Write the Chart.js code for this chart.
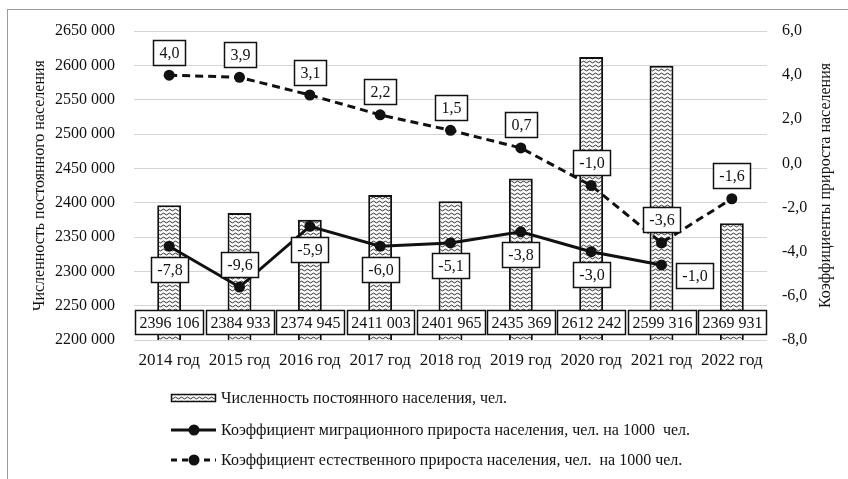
<!DOCTYPE html>
<html>
<head>
<meta charset="utf-8">
<script src="https://cdn.jsdelivr.net/npm/chart.js@4.4.1/dist/chart.umd.min.js"></script>
<style>
html, body { margin: 0; padding: 0; background: #fff; }
#wrap { width: 848px; height: 479px; }
</style>
</head>
<body>
<div id="wrap"><canvas id="chart" width="848" height="479"></canvas></div>
<script>
// data
var years = ['2014 год', '2015 год', '2016 год', '2017 год', '2018 год', '2019 год', '2020 год', '2021 год', '2022 год'];
var population = [2396106, 2384933, 2374945, 2411003, 2401965, 2435369, 2612242, 2599316, 2369931];
// migration line: where the points sit on the right axis, and the text printed beside them
var migrationPoints = [-3.75, -5.6, -2.85, -3.75, -3.6, -3.1, -4.0, -4.6, null];
var migrationLabels = ['-7,8', '-9,6', '-5,9', '-6,0', '-5,1', '-3,8', '-3,0', '-1,0', ''];
var naturalGrowth = [4.0, 3.9, 3.1, 2.2, 1.5, 0.7, -1.0, -3.6, -1.6];
var leftAxis = { min: 2200000, max: 2650000, step: 50000 };
var rightAxis = { min: -8, max: 6, step: 2 };
var legendTexts = [
	'Численность постоянного населения, чел.',
	'Коэффициент миграционного прироста населения, чел. на 1000  чел.',
	'Коэффициент естественного прироста населения, чел.  на 1000 чел.'
];

var FONT = '"Liberation Serif", "Times New Roman", serif';
var INK = '#111';

var fmtThousands = function(v) {
	var s = String(Math.round(v));
	return s.slice(0, s.length - 3) + ' ' + s.slice(-3);
};
var fmtComma = function(v) {
	return v.toFixed(1).replace('.', ',');
};

var makePattern = function(ctx) {
	var c = document.createElement('canvas');
	c.width = 6; c.height = 4;
	var g = c.getContext('2d');
	g.fillStyle = '#fafafa';
	g.fillRect(0, 0, 6, 4);
	g.strokeStyle = '#333';
	g.lineWidth = 1;
	g.beginPath();
	g.moveTo(0, 2);
	g.quadraticCurveTo(1.5, 0.2, 3, 2);
	g.quadraticCurveTo(4.5, 3.8, 6, 2);
	g.stroke();
	return ctx.createPattern(c, 'repeat');
};

var drawBox = function(ctx, text, cx, cy, padX, h) {
	var w = Math.round(ctx.measureText(text).width + padX * 2);
	var x = Math.round(cx - w / 2) + 0.5, y = Math.round(cy - h / 2) + 0.5;
	ctx.fillStyle = '#fff';
	ctx.fillRect(x, y, w, h);
	ctx.strokeStyle = INK;
	ctx.lineWidth = 1.5;
	ctx.strokeRect(x, y, w, h);
	ctx.fillStyle = INK;
	ctx.textAlign = 'center';
	ctx.textBaseline = 'middle';
	ctx.fillText(text, x + w / 2, y + h / 2 + 1);
};

var migrationPlace = ['below', 'above', 'below', 'below', 'below', 'below', 'below', 'right', 'below'];

var boxLabels = {
	id: 'boxLabels',
	afterDatasetsDraw: function(chart) {
		var ctx = chart.ctx, area = chart.chartArea;
		ctx.save();
		ctx.font = '16px ' + FONT;
		chart.getDatasetMeta(0).data.forEach(function(bar, i) {
			drawBox(ctx, fmtThousands(population[i]), bar.x, area.bottom - 18, 4, 24);
		});
		chart.getDatasetMeta(1).data.forEach(function(pt, i) {
			if (migrationPoints[i] === null) return;
			var p = migrationPlace[i];
			if (p === 'above') drawBox(ctx, migrationLabels[i], pt.x, pt.y - 23, 6, 25);
			else if (p === 'right') drawBox(ctx, migrationLabels[i], pt.x + 33, pt.y + 11, 6, 25);
			else drawBox(ctx, migrationLabels[i], pt.x, pt.y + 23, 6, 25);
		});
		chart.getDatasetMeta(2).data.forEach(function(pt, i) {
			drawBox(ctx, fmtComma(naturalGrowth[i]), pt.x, pt.y - 23, 6, 25);
		});
		ctx.restore();
	},
	afterDraw: function(chart) {
		var ctx = chart.ctx, area = chart.chartArea;
		ctx.save();
		// right axis title, reads bottom to top
		ctx.font = '16px ' + FONT;
		ctx.fillStyle = INK;
		ctx.textAlign = 'center';
		ctx.textBaseline = 'middle';
		ctx.translate(826, (area.top + area.bottom) / 2);
		ctx.rotate(-Math.PI / 2);
		ctx.fillText('Коэффициенты прироста населения', 0, 0);
		ctx.restore();

		// legend
		ctx.save();
		var lx = 171, rows = [398, 430, 460];
		ctx.font = '16px ' + FONT;
		ctx.textAlign = 'left';
		ctx.textBaseline = 'middle';
		ctx.fillStyle = makePattern(ctx);
		ctx.fillRect(lx + 0.5, rows[0] - 3.5, 44, 7);
		ctx.strokeStyle = INK;
		ctx.lineWidth = 1.5;
		ctx.strokeRect(lx + 0.5, rows[0] - 3.5, 44, 7);
		ctx.lineWidth = 3;
		ctx.beginPath(); ctx.moveTo(lx, rows[1]); ctx.lineTo(lx + 45, rows[1]); ctx.stroke();
		ctx.setLineDash([6, 5]);
		ctx.beginPath(); ctx.moveTo(lx, rows[2]); ctx.lineTo(lx + 45, rows[2]); ctx.stroke();
		ctx.setLineDash([]);
		ctx.fillStyle = INK;
		[rows[1], rows[2]].forEach(function(y) {
			ctx.beginPath(); ctx.arc(lx + 23, y, 5.5, 0, Math.PI * 2); ctx.fill();
		});
		legendTexts.forEach(function(t, i) {
			ctx.fillText(t, lx + 50, rows[i] + 1);
		});
		// outer frame
		ctx.strokeStyle = '#9a9a9a';
		ctx.lineWidth = 1;
		ctx.strokeRect(7.5, 9.5, 900, 500);
		ctx.restore();
	}
};

var ctx = document.getElementById('chart');
var chart = new Chart(ctx, {
	data: {
		labels: years,
		datasets: [{
			type: 'bar',
			label: legendTexts[0],
			data: population,
			yAxisID: 'y',
			backgroundColor: makePattern(ctx.getContext('2d')),
			borderColor: INK,
			borderWidth: 2,
			borderSkipped: false,
			barPercentage: 0.34,
			categoryPercentage: 1,
			order: 3
		}, {
			type: 'line',
			label: legendTexts[1],
			data: migrationPoints,
			yAxisID: 'y1',
			borderColor: INK,
			backgroundColor: INK,
			borderWidth: 3,
			pointRadius: 5.5,
			pointBackgroundColor: INK,
			pointBorderWidth: 0,
			tension: 0,
			order: 2
		}, {
			type: 'line',
			label: legendTexts[2],
			data: naturalGrowth,
			yAxisID: 'y1',
			borderColor: INK,
			backgroundColor: INK,
			borderWidth: 3,
			borderDash: [8, 5],
			pointRadius: 5.5,
			pointBackgroundColor: INK,
			pointBorderWidth: 0,
			tension: 0,
			order: 1
		}]
	},
	options: {
		responsive: false,
		animation: false,
		layout: { padding: { top: 31, left: 0, right: 0, bottom: 0 } },
		plugins: {
			legend: { display: false },
			tooltip: { enabled: false }
		},
		scales: {
			x: {
				offset: true,
				grid: { display: false, drawTicks: false },
				border: { display: false },
				ticks: { color: INK, font: { family: FONT, size: 17 }, padding: 10, maxRotation: 0 },
				afterFit: function(s) { s.height = 139; }
			},
			y: {
				position: 'left',
				min: leftAxis.min,
				max: leftAxis.max,
				grid: { color: '#d4d4d4', lineWidth: 1, drawTicks: false },
				border: { display: false },
				ticks: { stepSize: leftAxis.step, color: INK, font: { family: FONT, size: 16 }, padding: 19, callback: fmtThousands },
				title: { display: true, text: 'Численность постоянного населения', color: INK, font: { family: FONT, size: 16 }, padding: { top: 30, bottom: 0 } },
				afterFit: function(s) { s.width = 134; }
			},
			y1: {
				position: 'right',
				min: rightAxis.min,
				max: rightAxis.max,
				grid: { display: false, drawTicks: false },
				border: { display: false },
				ticks: { stepSize: rightAxis.step, color: INK, font: { family: FONT, size: 16 }, padding: 15, callback: fmtComma },
				afterFit: function(s) { s.width = 81; }
			}
		}
	},
	plugins: [boxLabels]
});
</script>
</body>
</html>
